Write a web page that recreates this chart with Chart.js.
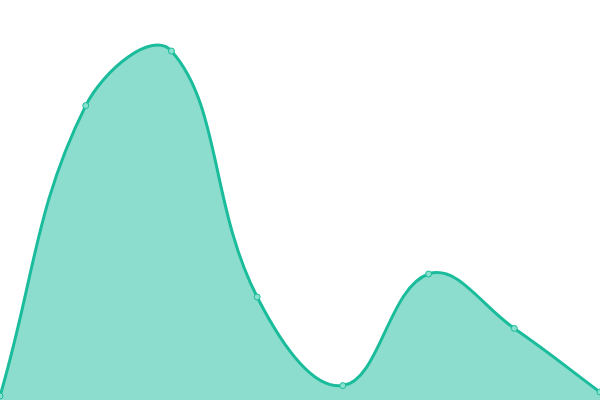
<!DOCTYPE html>
<html lang="en">
<head>
    <meta charset="UTF-8">
    <title>Area chart</title>
    <script src="https://cdn.jsdelivr.net/npm/chart.js"></script>
    <style>
        html, body { margin: 0; padding: 0; background: #fff; }
        #wrap { width: 600px; height: 400px; }
    </style>
</head>
<body>
    <div id="wrap"><canvas id="areaChart"></canvas></div>

    <script>
        const labels = ['1', '2', '3', '4', '5', '6', '7', '8'];
        const values = [1, 73.6, 87.25, 25.75, 3.6, 31.5, 17.9, 2];
        const yMin = 0;
        const yMax = 100;

        const ctx = document.getElementById('areaChart').getContext('2d');
        new Chart(ctx, {
            type: 'line',
            data: {
                labels: labels,
                datasets: [{
                    data: values,
                    fill: 'origin',
                    tension: 0.4,
                    backgroundColor: 'rgba(26, 188, 156, 0.5)',
                    borderColor: 'rgb(26, 188, 156)',
                    borderWidth: 3,
                    pointRadius: 3,
                    pointBorderWidth: 1,
                    pointBackgroundColor: 'rgb(138, 224, 207)',
                    pointBorderColor: 'rgb(26, 188, 156)'
                }]
            },
            options: {
                responsive: true,
                maintainAspectRatio: false,
                animation: false,
                layout: { padding: 0, autoPadding: false },
                plugins: {
                    legend: { display: false },
                    tooltip: { enabled: false }
                },
                scales: {
                    x: { display: false },
                    y: { display: false, min: yMin, max: yMax }
                }
            }
        });
    </script>
</body>
</html>
